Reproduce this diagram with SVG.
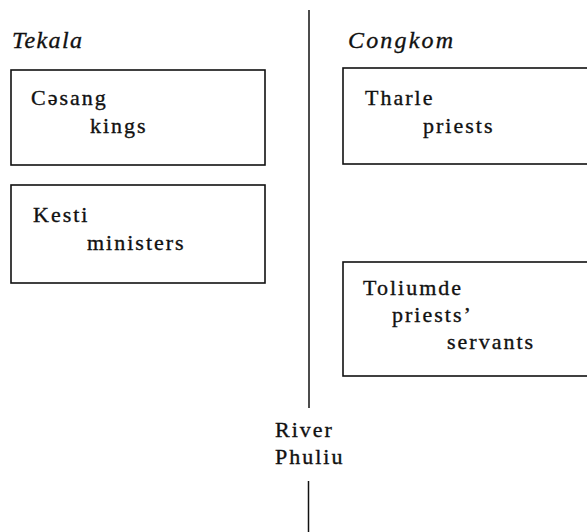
<svg xmlns="http://www.w3.org/2000/svg" width="587" height="532" viewBox="0 0 587 532">
<style>
.t{font-family:"Liberation Serif","Times New Roman",serif;font-size:22px;letter-spacing:2px;fill:#111;stroke:#111;stroke-width:0.35}
.h{font-style:italic;font-size:24px;letter-spacing:1px}
.b{fill:none;stroke:#111;stroke-width:1.6}
.l{stroke:#111;stroke-width:1.5;fill:none}
</style>
<rect width="587" height="532" fill="#fff"/>
<g id="connectors">
<line class="l" x1="309" y1="10" x2="309" y2="408"/>
<line class="l" x1="308.5" y1="481" x2="308.5" y2="532"/>
</g>
<g id="tekala"><text class="t h" x="12" y="48" textLength="71" lengthAdjust="spacing">Tekala</text></g>
<g id="congkom"><text class="t h" x="348" y="48" textLength="106" lengthAdjust="spacing">Congkom</text></g>
<g id="casang">
<rect class="b" x="11" y="70" width="254" height="95"/>
<text class="t" x="31" y="105">Cəsang</text>
<text class="t" x="90" y="133">kings</text>
</g>
<g id="kesti">
<rect class="b" x="11" y="185" width="254" height="98"/>
<text class="t" x="33" y="222">Kesti</text>
<text class="t" x="87" y="250">ministers</text>
</g>
<g id="tharle">
<rect class="b" x="343" y="68" width="260" height="96"/>
<text class="t" x="365" y="105">Tharle</text>
<text class="t" x="423" y="133">priests</text>
</g>
<g id="toliumde">
<rect class="b" x="343" y="262" width="260" height="114"/>
<text class="t" x="363" y="295">Toliumde</text>
<text class="t" x="392" y="322">priests’</text>
<text class="t" x="447" y="349">servants</text>
</g>
<g id="river">
<text class="t" x="275" y="437">River</text>
<text class="t" x="275" y="464">Phuliu</text>
</g>
</svg>
